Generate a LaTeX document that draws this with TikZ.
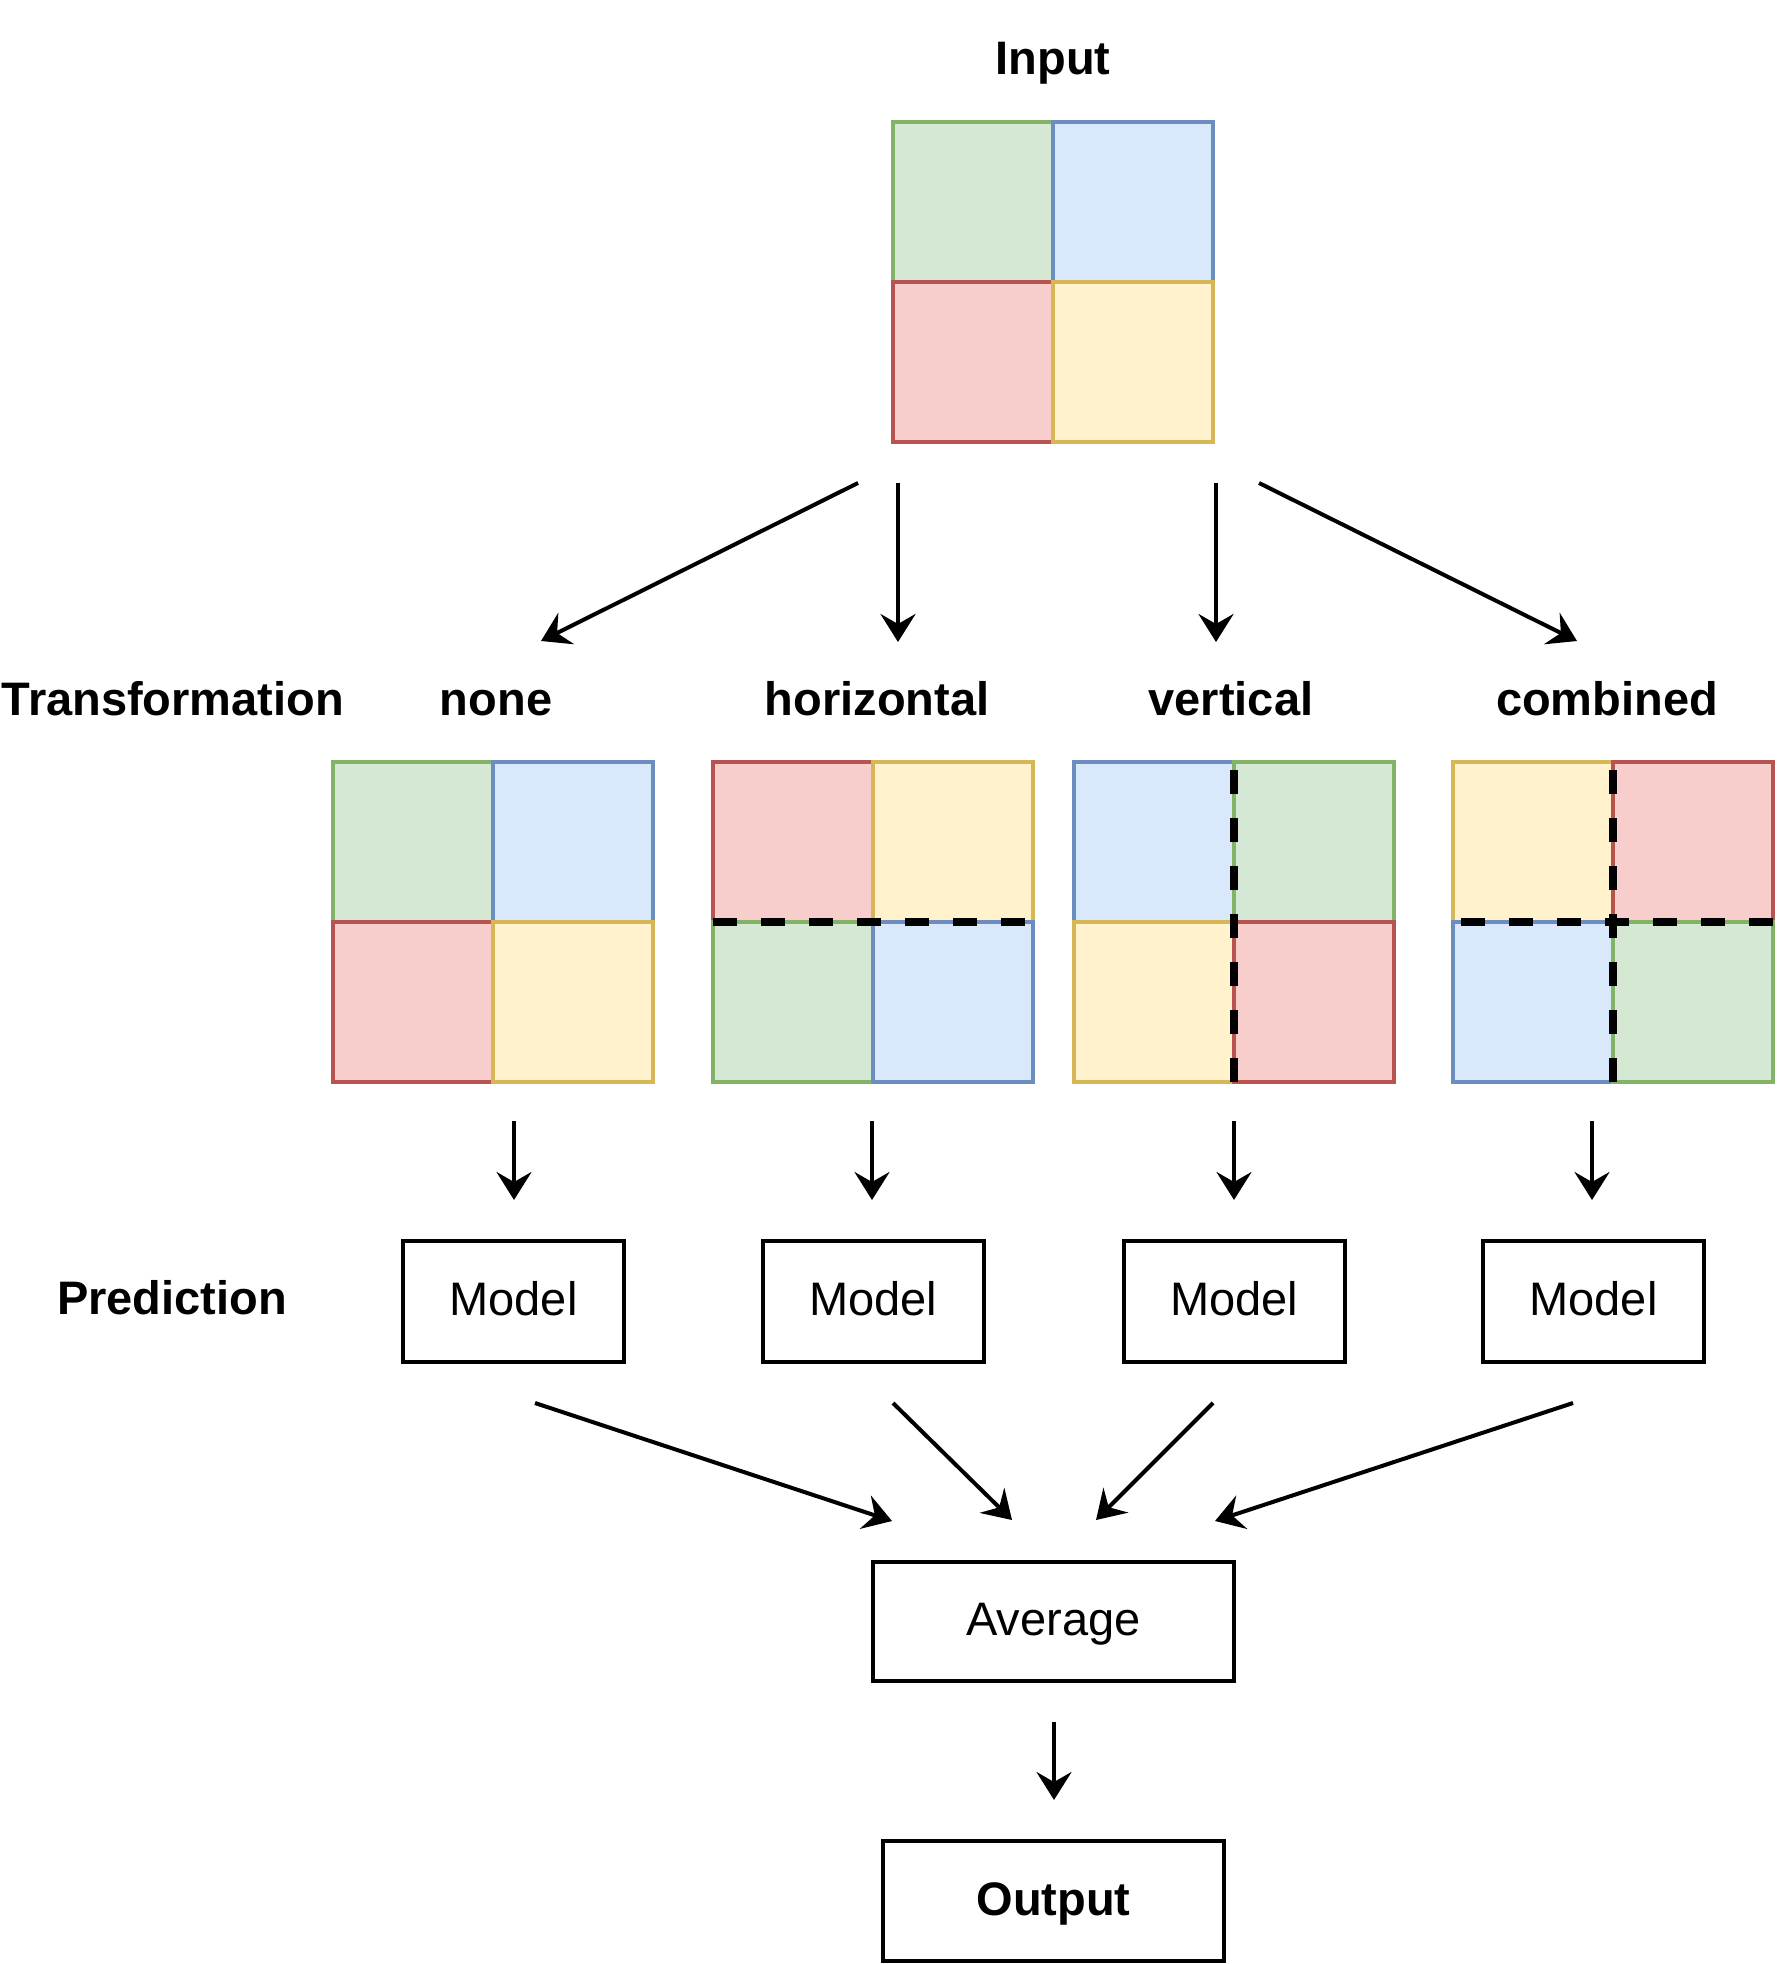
\documentclass[tikz,border=0pt]{standalone}
\usepackage{fontspec}
\setmainfont{Liberation Sans}
\usetikzlibrary{arrows.meta}
\definecolor{gs}{HTML}{82B366}\definecolor{gf}{HTML}{D5E8D4}
\definecolor{bs}{HTML}{6C8EBF}\definecolor{bf}{HTML}{DAE8FC}
\definecolor{rs}{HTML}{B85450}\definecolor{rf}{HTML}{F8CECC}
\definecolor{ys}{HTML}{D6B656}\definecolor{yf}{HTML}{FFF2CC}
\newcommand{\quadgrid}[7]{%
  \node[cell=#4] (#1-tl) at ({#2+80},{#3+80}) {};
  \node[cell=#5] (#1-tr) at ({#2+240},{#3+80}) {};
  \node[cell=#6] (#1-bl) at ({#2+80},{#3+240}) {};
  \node[cell=#7] (#1-br) at ({#2+240},{#3+240}) {};
}
\tikzset{
  cell/.style={draw=#1s, fill=#1f, line width=4pt, minimum size=160pt, inner sep=0pt, outer sep=0pt},
  txt/.style={font=\fontsize{47}{56}\selectfont, text height=34pt, text depth=0pt, inner sep=0pt},
  btxt/.style={txt, font=\fontsize{47}{56}\selectfont\bfseries},
  box/.style={txt, text depth=6pt, draw=black, line width=4pt, outer sep=0pt},
  arr/.style={line width=4pt, -{Stealth[length=28pt, width=35pt, inset=10pt]}},
  dashline/.style={line width=8pt, dash pattern=on 24pt off 24pt},
}
\begin{document}
\begin{tikzpicture}[x=1pt, y=-1pt]
\useasboundingbox (0,0) rectangle (1784,1964);
% labels
\node[btxt] (lin) at (1053,58) {Input};
\node[btxt] (ltr) at (173,698) {Transformation};
\node[btxt] (lnone) at (496,698) {none};
\node[btxt] (lhor) at (877,698) {horizontal};
\node[btxt] (lver) at (1231,698) {vertical};
\node[btxt] (lcomb) at (1607,698) {combined};
\node[btxt] (lpred) at (172,1297) {Prediction};
% grids
\quadgrid{in}{893}{122}{g}{b}{r}{y}
\quadgrid{no}{333}{762}{g}{b}{r}{y}
\quadgrid{hz}{713}{762}{r}{y}{g}{b}
\quadgrid{vt}{1074}{762}{b}{g}{y}{r}
\quadgrid{cb}{1453}{762}{y}{r}{b}{g}
\draw[dashline] (hz-bl.north west) -- (hz-br.north east);
\draw[dashline] (vt-bl.south east) -- (vt-tl.north east);
\draw[dashline] (cb-br.north east) -- (cb-bl.north west);
\draw[dashline] (cb-bl.south east) -- (cb-tl.north east);
% boxes
\node[box, minimum width=221pt, minimum height=121pt] (m1) at (513.5,1301.5) {Model};
\node[box, minimum width=221pt, minimum height=121pt] (m2) at (873,1301.5) {Model};
\node[box, minimum width=221pt, minimum height=121pt] (m3) at (1234,1301.5) {Model};
\node[box, minimum width=221pt, minimum height=121pt] (m4) at (1593.5,1301.5) {Model};
\node[box, minimum width=361pt, minimum height=119pt] (avg) at (1053.5,1621.5) {Average};
\node[box, font=\fontsize{47}{56}\selectfont\bfseries, minimum width=341pt, minimum height=120pt] (out) at (1053.5,1901) {Output};
% arrow end points
\coordinate (a1s) at (858,483);  \coordinate (a1e) at (541,641);
\coordinate (a2s) at (898,483);  \coordinate (a2e) at (898,642);
\coordinate (a3s) at (1216,483); \coordinate (a3e) at (1216,642);
\coordinate (a4s) at (1259,483); \coordinate (a4e) at (1577,641);
\coordinate (b1s) at (514,1121);  \coordinate (b1e) at (514,1200);
\coordinate (b2s) at (872,1121);  \coordinate (b2e) at (872,1200);
\coordinate (b3s) at (1234,1121); \coordinate (b3e) at (1234,1200);
\coordinate (b4s) at (1592,1121); \coordinate (b4e) at (1592,1200);
\coordinate (c1s) at (535,1403);  \coordinate (c1e) at (892,1521);
\coordinate (c2s) at (893,1403);  \coordinate (c2e) at (1012,1520);
\coordinate (c3s) at (1213,1403); \coordinate (c3e) at (1096,1520);
\coordinate (c4s) at (1573,1403); \coordinate (c4e) at (1215,1521);
\coordinate (ds) at (1054,1722);  \coordinate (de) at (1054,1800);
\foreach \p in {a1,a2,a3,a4,b1,b2,b3,b4,c1,c2,c3,c4}{\draw[arr] (\p s) -- (\p e);}
\draw[arr] (ds) -- (de);
\end{tikzpicture}
\end{document}
